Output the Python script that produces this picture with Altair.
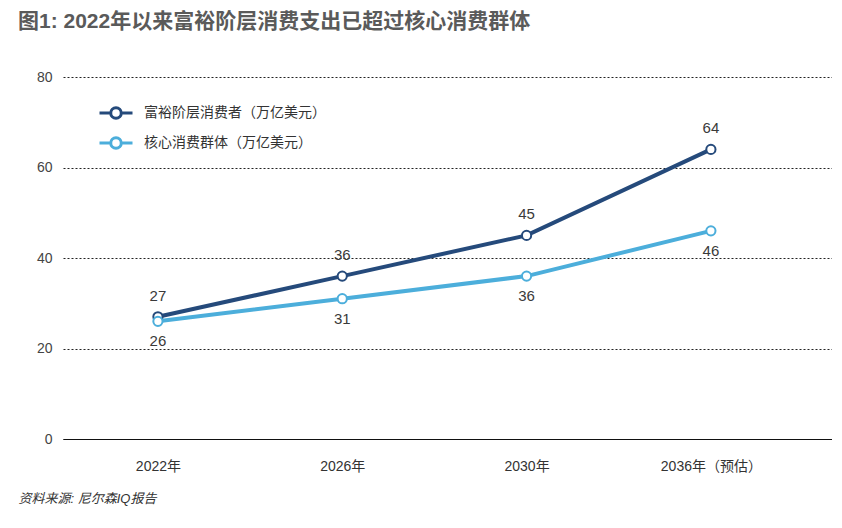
import altair as alt
import pandas as pd

years = ["2022年", "2026年", "2030年", "2036年（预估）"]
series_names = ["富裕阶层消费者（万亿美元）", "核心消费群体（万亿美元）"]
affluent = [27, 36, 45, 64]
core = [26, 31, 36, 46]
colors = ["#254a7b", "#4caedb"]

rows = []
for i, a in enumerate(affluent):
    rows.append({"idx": i, "year": years[i], "series": series_names[0], "order": 0, "value": a})
for i, c in enumerate(core):
    rows.append({"idx": i, "year": years[i], "series": series_names[1], "order": 1, "value": c})
df = pd.DataFrame(rows)

FONT = "Liberation Sans, Noto Sans CJK SC, sans-serif"
label_expr = "[" + ",".join("'%s'" % y for y in years) + "][datum.value]"

legend_path = ("M-1,0L-0.32,0M0.32,0L1,0"
               "M-0.32,0A0.32,0.32,0,1,1,0.32,0A0.32,0.32,0,1,1,-0.32,0")

x = alt.X(
    "idx:Q",
    scale=alt.Scale(domain=[-0.515, 3.657], nice=False, zero=False),
    axis=alt.Axis(
        values=[0, 1, 2, 3], labelExpr=label_expr, ticks=False, grid=False,
        domain=True, domainColor="#111111", domainWidth=1,
        labelFont=FONT, labelFontSize=14, labelColor="#333333", labelPadding=20,
        title="资料来源: 尼尔森IQ报告", titleFont=FONT, titleFontSize=13,
        titleFontStyle="italic", titleFontWeight="normal", titleColor="#333333",
        titleAlign="left", titleBaseline="alphabetic", titleX=-45, titleY=63,
    ),
)
y = alt.Y(
    "value:Q",
    scale=alt.Scale(domain=[0, 80], nice=False),
    axis=alt.Axis(
        values=[0, 20, 40, 60, 80], ticks=False, domain=False, grid=True,
        gridColor="#222222", gridDash=[2, 2], gridWidth=1,
        labelFont=FONT, labelFontSize=14, labelColor="#444444", labelPadding=11,
        title=None,
    ),
)
color = alt.Color(
    "series:N",
    scale=alt.Scale(domain=series_names, range=colors),
    sort=series_names,
    legend=alt.Legend(
        title=None, orient="none", legendX=35, legendY=18,
        symbolType=legend_path, symbolSize=1089, symbolStrokeWidth=3,
        symbolFillColor="white", labelFont=FONT, labelFontSize=14,
        labelColor="#333333", labelOffset=10, rowPadding=0, labelLimit=0,
    ),
)

base = alt.Chart(df).encode(x=x, y=y, color=color, order=alt.Order("order:Q"))

lines = base.mark_line(strokeWidth=4)
points = base.mark_point(shape="circle", filled=False, fill="white", size=85,
                         strokeWidth=2, opacity=1)

txt_top = alt.Chart(df).transform_filter(alt.datum.order == 0).mark_text(
    dy=-21, font=FONT, fontSize=15, color="#3a3a3a"
).encode(x="idx:Q", y="value:Q", text="value:Q")
txt_bot = alt.Chart(df).transform_filter(alt.datum.order == 1).mark_text(
    dy=20, font=FONT, fontSize=15, color="#3a3a3a"
).encode(x="idx:Q", y="value:Q", text="value:Q")

chart = alt.layer(lines, points, txt_top, txt_bot).properties(
    width=769, height=362,
    autosize=alt.AutoSizeParams(type="none"),
    padding={"left": 55, "top": 69, "right": 0, "bottom": 80},
    title=alt.TitleParams(
        "图1: 2022年以来富裕阶层消费支出已超过核心消费群体",
        anchor="start", frame="group", dx=-45, offset=38,
        font=FONT, fontSize=21, fontWeight="bold", color="#5a5a5a",
    ),
).configure_view(stroke=None)

chart.save("out.html", embed_options={"renderer": "svg", "actions": False})
